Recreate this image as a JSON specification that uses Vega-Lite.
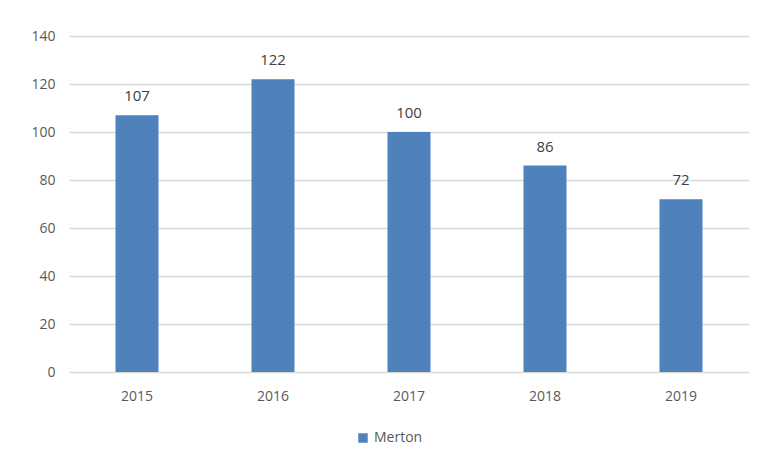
{
  "$schema": "https://vega.github.io/schema/vega-lite/v6.json",
  "width": 680,
  "height": 336,
  "autosize": {"type": "none"},
  "padding": {"left": 69, "top": 36, "right": 12, "bottom": 89},
  "background": "white",
  "data": {"values": [
    {"year": "2015", "value": 107, "series": "Merton"},
    {"year": "2016", "value": 122, "series": "Merton"},
    {"year": "2017", "value": 100, "series": "Merton"},
    {"year": "2018", "value": 86, "series": "Merton"},
    {"year": "2019", "value": 72, "series": "Merton"}
  ]},
  "encoding": {
    "x": {"field": "year", "type": "nominal", "scale": {"paddingInner": 0, "paddingOuter": 0},
      "axis": {"title": null, "labelAngle": 0, "ticks": false, "domain": false, "labelPadding": 17, "labelFontSize": 14, "labelColor": "#595959", "labelFont": "Open Sans"}},
    "y": {"field": "value", "type": "quantitative", "scale": {"domain": [0, 140]},
      "axis": {"title": null, "values": [0, 20, 40, 60, 80, 100, 120, 140], "ticks": false, "domain": false, "labelPadding": 14, "labelFontSize": 14, "labelColor": "#595959", "labelFont": "Open Sans", "gridColor": "#d9d9d9", "gridWidth": 1.3}}
  },
  "layer": [
    {
      "mark": {"type": "bar", "size": 43},
      "encoding": {
        "color": {"field": "series", "type": "nominal", "scale": {"range": ["#4F81BD"]},
          "legend": {"title": null, "orient": "none", "legendX": 287, "legendY": 395, "symbolType": "square", "symbolSize": 90, "labelFontSize": 14, "labelColor": "#595959", "labelFont": "Open Sans", "symbolStrokeWidth": 0}}
      }
    },
    {
      "mark": {"type": "text", "baseline": "bottom", "dy": -11, "fontSize": 15, "color": "#404040", "font": "Open Sans"},
      "encoding": {"text": {"field": "value", "type": "quantitative"}}
    }
  ],
  "config": {"view": {"stroke": null}}
}
